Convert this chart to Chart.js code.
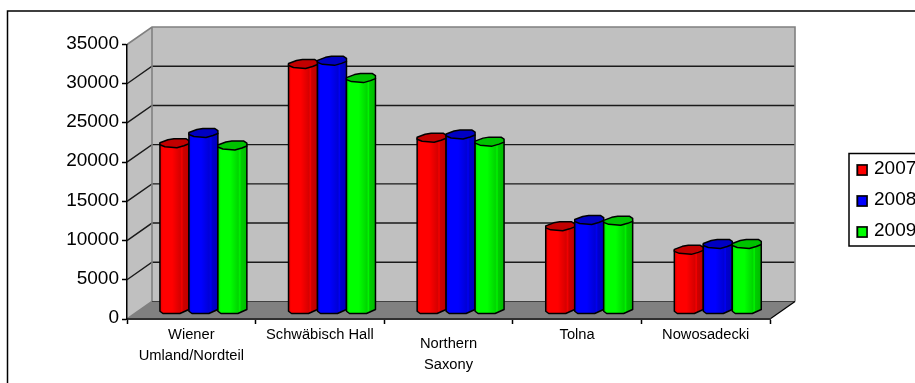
<!DOCTYPE html>
<html>
<head>
<meta charset="utf-8">
<style>
  html, body { margin: 0; background: #fff; overflow: hidden; }
  canvas { display: block; }
</style>
<script src="https://cdn.jsdelivr.net/npm/chart.js@4"></script>
</head>
<body>
<canvas id="chart" width="915" height="383"></canvas>
<script>
const categories = [
    ['Wiener', 'Umland/Nordteil'],
    'Schwäbisch Hall',
    ['Northern', 'Saxony'],
    'Tolna',
    'Nowosadecki',
]
const seriesNames = ['2007', '2008', '2009']
const values2007 = [21300, 31400, 22000, 10700, 7700]
const values2008 = [22600, 31800, 22400, 11500, 8450]
const values2009 = [21000, 29600, 21500, 11400, 8450]
const seriesColors = ['#ff0000', '#0000ff', '#00ff00']

const DEPTH_X = 25
const DEPTH_Y = 17.5
const FONT_FAMILY = '"Liberation Sans", Arial, sans-serif'

function shade(hex, factor) {
    const parts = [1, 3, 5].map(i => Math.round(parseInt(hex.slice(i, i + 2), 16) * factor))
    return `rgb(${parts.join(',')})`
}

function polygon(ctx, points) {
    ctx.beginPath()
    points.forEach(([x, y], i) => (i ? ctx.lineTo(x, y) : ctx.moveTo(x, y)))
    ctx.closePath()
}

// Frame, side wall, back wall and floor behind the axes
const box3d = {
    id: 'box3d',
    beforeDraw(chart) {
        const { ctx, chartArea: { left, right, top, bottom }, scales: { x, y } } = chart
        const backLeft = left + DEPTH_X
        const backRight = right + DEPTH_X
        const backTop = top - DEPTH_Y
        const backBottom = bottom - DEPTH_Y

        // the "Northern Saxony" label hangs a little lower than its neighbours
        x.getLabelItems(chart.chartArea)[2].options.translation[1] += 9
        y.getLabelItems(chart.chartArea).forEach(item => { item.options.translation[1] -= 1 })

        ctx.save()

        ctx.strokeStyle = '#000'
        ctx.lineWidth = 1.5
        ctx.strokeRect(7.5, 11, 1000, 500)

        ctx.fillStyle = '#c0c0c0'
        ctx.fillRect(backLeft, backTop, right - left, bottom - top)
        polygon(ctx, [[left, top], [backLeft, backTop], [backLeft, backBottom], [left, bottom]])
        ctx.fill()

        ctx.fillStyle = '#808080'
        polygon(ctx, [[left, bottom], [backLeft, backBottom], [backRight, backBottom], [right, bottom]])
        ctx.fill()

        // gridlines run along the side wall and across the back wall
        ctx.strokeStyle = '#1a1a1a'
        ctx.lineWidth = 1.4
        y.ticks.slice(1, -1).forEach(tick => {
            const py = y.getPixelForValue(tick.value)
            ctx.beginPath()
            ctx.moveTo(left, py)
            ctx.lineTo(backLeft, py - DEPTH_Y)
            ctx.lineTo(backRight, py - DEPTH_Y)
            ctx.stroke()
        })

        ctx.strokeStyle = '#808080'
        ctx.lineWidth = 1.6
        ctx.beginPath()
        ctx.moveTo(left, top)
        ctx.lineTo(backLeft, backTop)
        ctx.lineTo(backRight, backTop)
        ctx.lineTo(backRight, backBottom)
        ctx.moveTo(backLeft, backTop)
        ctx.lineTo(backLeft, backBottom)
        ctx.lineTo(left, bottom)
        ctx.stroke()

        ctx.strokeStyle = '#404040'
        ctx.lineWidth = 1.2
        ctx.beginPath()
        ctx.moveTo(backLeft, backBottom)
        ctx.lineTo(backRight, backBottom)
        ctx.stroke()

        ctx.strokeStyle = '#000'
        ctx.beginPath()
        ctx.moveTo(right, bottom)
        ctx.lineTo(backRight, backBottom)
        ctx.stroke()

        ctx.restore()
    },
}

function drawColumn(ctx, bar, color) {
    const w = bar.width
    const x = bar.x - w / 2 + DEPTH_X / 2 - 0.4
    const t = bar.y - DEPTH_Y / 2
    const b = bar.base - DEPTH_Y / 2
    const k = w / 29

    const body = ctx.createLinearGradient(x, 0, x + w, 0)
    body.addColorStop(0, shade(color, 0.88))
    body.addColorStop(0.1, shade(color, 1))
    body.addColorStop(0.42, shade(color, 1))
    body.addColorStop(0.7, shade(color, 0.84))
    body.addColorStop(0.76, shade(color, 0.96))
    body.addColorStop(0.8, shade(color, 0.8))
    body.addColorStop(1, shade(color, 0.74))

    polygon(ctx, [
        [x, t + 0.5],
        [x, b + 1.5],
        [x + 3 * k, b + 3.75],
        [x + 20 * k, b + 3.75],
        [x + w, b - 0.25],
        [x + w, t + 0.5],
    ])
    ctx.fillStyle = body
    ctx.fill()
    ctx.stroke()

    polygon(ctx, [
        [x, t - 0.5],
        [x + 8 * k, t - 3.5],
        [x + 14 * k, t - 4.5],
        [x + 26 * k, t - 4.5],
        [x + w, t - 2.5],
        [x + w, t + 0.5],
        [x + 24 * k, t + 2.5],
        [x + 17 * k, t + 4.5],
        [x + 5 * k, t + 3.5],
        [x, t + 1.5],
    ])
    ctx.fillStyle = shade(color, 0.76)
    ctx.fill()
    ctx.stroke()
}

// Columns are painted first series first, so later series sit in front
const columns = {
    id: 'columns',
    beforeDatasetsDraw(chart) {
        const { ctx } = chart
        ctx.save()
        ctx.strokeStyle = '#000'
        ctx.lineWidth = 1.5
        ctx.lineJoin = 'round'
        chart.data.labels.forEach((_, index) => {
            chart.data.datasets.forEach((dataset, di) => {
                drawColumn(ctx, chart.getDatasetMeta(di).data[index], dataset.backgroundColor)
            })
        })
        ctx.restore()
        return false
    },
}

const legendBox = {
    id: 'legendBox',
    afterDraw(chart) {
        const { ctx } = chart
        ctx.save()
        ctx.strokeStyle = '#000'
        ctx.lineWidth = 1.5
        ctx.strokeRect(849, 153.5, 200, 92.5)

        ctx.font = `19px ${FONT_FAMILY}`
        ctx.textBaseline = 'middle'
        chart.data.datasets.forEach((dataset, i) => {
            const rowY = 170 + i * 31
            ctx.fillStyle = '#808080'
            ctx.fillRect(856, rowY - 6, 12, 12)
            ctx.fillStyle = dataset.backgroundColor
            ctx.fillRect(857.5, rowY - 5, 9.5, 10)
            ctx.strokeRect(857.5, rowY - 5, 9.5, 10)
            ctx.fillStyle = '#000'
            ctx.fillText(dataset.label, 874, rowY - 1.5)
        })
        ctx.restore()
    },
}

new Chart(document.getElementById('chart'), {
    type: 'bar',
    data: {
        labels: categories,
        datasets: [values2007, values2008, values2009].map((data, i) => ({
            label: seriesNames[i],
            data,
            backgroundColor: seriesColors[i],
        })),
    },
    options: {
        responsive: false,
        animation: false,
        events: [],
        categoryPercentage: 0.676,
        barPercentage: 1,
        layout: { padding: { top: 44.5, right: 145 } },
        plugins: {
            legend: { display: false },
            title: { display: false },
            tooltip: { enabled: false },
        },
        scales: {
            x: {
                afterFit(scale) { scale.height = 64 },
                border: { color: '#303030', width: 2 },
                grid: { drawOnChartArea: false, color: '#000', tickLength: 5, tickWidth: 1.5 },
                ticks: {
                    color: '#000',
                    padding: 0,
                    autoSkip: false,
                    maxRotation: 0,
                    font: { family: FONT_FAMILY, size: 14.7, lineHeight: 1.43 },
                },
            },
            y: {
                min: 0,
                max: 35000,
                afterFit(scale) { scale.width = 127 },
                border: { color: '#000', width: 1.5 },
                grid: { drawOnChartArea: false, color: '#000', tickLength: 5, tickWidth: 1.5 },
                ticks: {
                    stepSize: 5000,
                    color: '#000',
                    padding: 3,
                    callback: value => String(value),
                    font: { family: FONT_FAMILY, size: 19 },
                },
            },
        },
    },
    plugins: [box3d, columns, legendBox],
})
</script>
</body>
</html>
